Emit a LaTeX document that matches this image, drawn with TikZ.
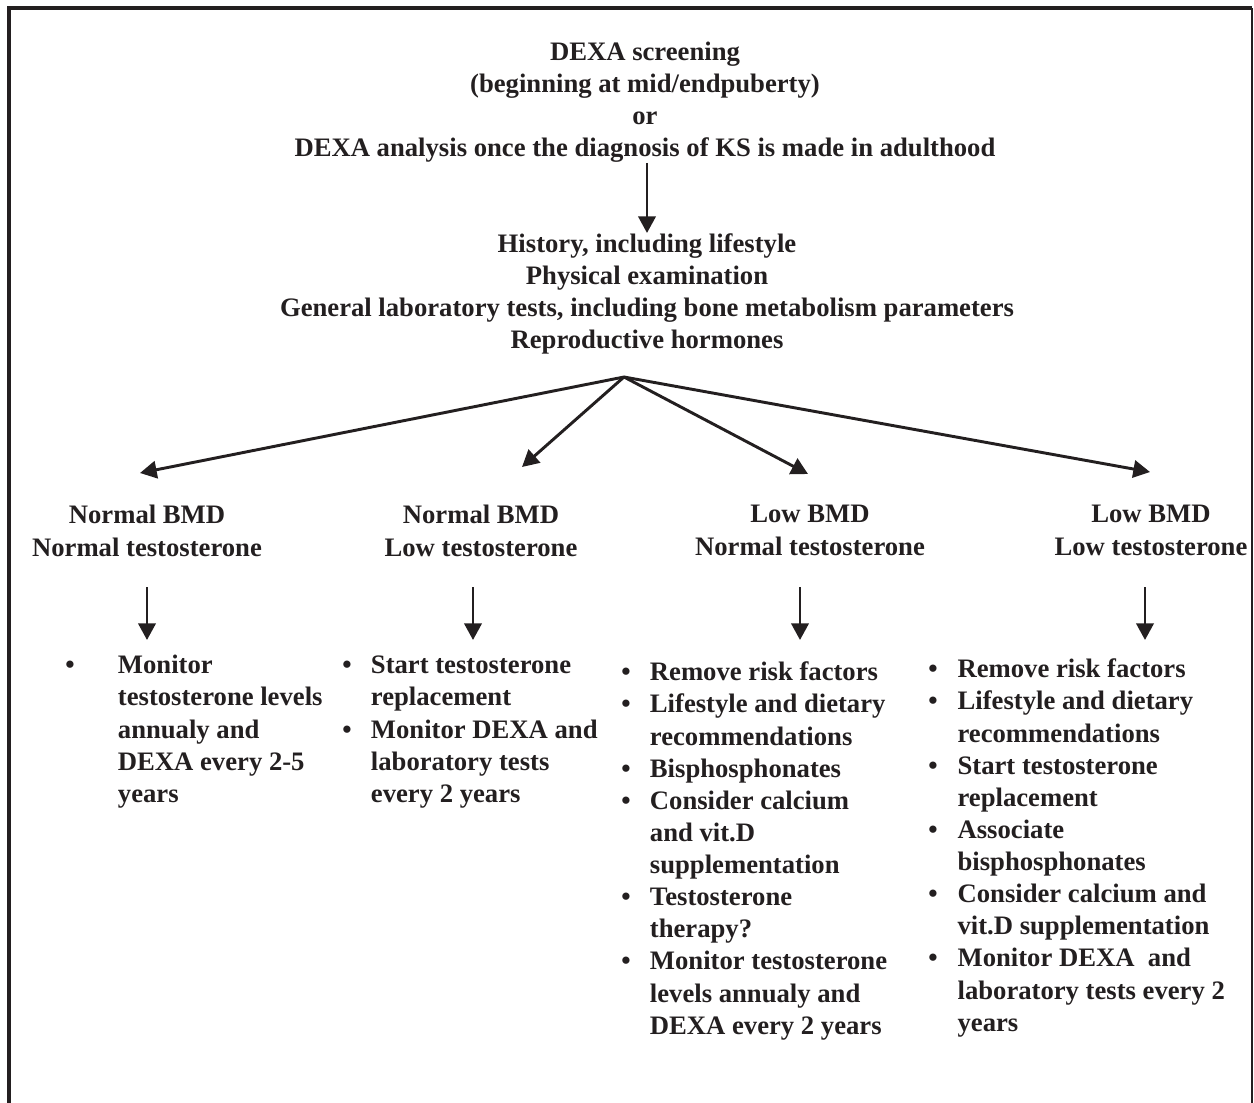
\documentclass[tikz,border=0pt]{standalone}
\usepackage{fontspec}
\setmainfont{Liberation Serif}
\usetikzlibrary{arrows.meta,calc,positioning}
\definecolor{ink}{HTML}{231F20}
\tikzset{
  heading/.style={
    text=ink,
    inner sep=0pt,
    align=center,
    anchor=north,
    font=\bfseries\fontsize{20}{24}\selectfont
  },
  outcome/.style={
    heading,
    font=\bfseries\fontsize{20}{24.7}\selectfont
  },
  plan/.style={
    text=ink,
    inner sep=0pt,
    anchor=north west,
    font=\bfseries\fontsize{20}{24.1}\selectfont
  },
  flow/.style={
    -{Triangle[length=12.5pt,width=13pt]},
    draw=ink,
    line width=2.2pt
  },
  frame/.style={
    draw=ink,
    line width=2.3pt
  }
}
\newcommand{\bul}{\textbullet}

\begin{document}
\begin{tikzpicture}[x=0.75pt,y=-0.75pt]
  \useasboundingbox (0,0) rectangle (1254,1103);

  % Open frame (no bottom edge)
  \draw[frame] (9,1103) -- (9,8) -- (1252,8);
  \draw[draw=ink,line width=1.1pt] (1252,8) -- (1252,1103);

  % Screening and work-up
  \node[heading] (screen) at (645,42)
    {DEXA screening\\
     (beginning at mid/endpuberty)\\
     or\\
     DEXA analysis once the diagnosis of KS is made in adulthood};

  \node[heading] (exam) at (647,233)
    {History, including lifestyle\\
     Physical examination\\
     General laboratory tests, including bone metabolism parameters\\
     Reproductive hormones};

  \draw[flow] (screen.south -| 647,0) -- (exam.north -| 647,0);

  % Four outcomes
  \node[outcome] (headA) at (147,505) {Normal BMD\\ Normal testosterone};
  \node[outcome] (headB) at (481,505) {Normal BMD\\ Low testosterone};
  \node[outcome] (headC) at (810,505) {Low BMD\\ Normal testosterone};
  \node[outcome] (headD) at (1151,505) {Low BMD\\ Low testosterone};

  \coordinate (hub) at (624,377);
  \coordinate (tipA) at (140,473);
  \coordinate (tipB) at (522,467);
  \coordinate (tipC) at (808,474);
  \coordinate (tipD) at (1150,472);
  \foreach \t in {A,B,C,D}
    \draw[flow] (hub) -- (tip\t);

  % Management per outcome
  \node[plan] (listA) at (65,651)
    {\begin{tabular}{@{}c@{\hspace{32.5pt}}l@{}}
     \bul & Monitor\\
          & testosterone levels\\
          & annualy and\\
          & DEXA every 2-5\\
          & years
     \end{tabular}};

  \node[plan] (listB) at (342,651)
    {\begin{tabular}{@{}c@{\hspace{14.5pt}}l@{}}
     \bul & Start testosterone\\
          & replacement\\
     \bul & Monitor DEXA and\\
          & laboratory tests\\
          & every 2 years
     \end{tabular}};

  \node[plan] (listC) at (621,658)
    {\begin{tabular}{@{}c@{\hspace{14.5pt}}l@{}}
     \bul & Remove risk factors\\
     \bul & Lifestyle and dietary\\
          & recommendations\\
     \bul & Bisphosphonates\\
     \bul & Consider calcium\\
          & and vit.D\\
          & supplementation\\
     \bul & Testosterone\\
          & therapy?\\
     \bul & Monitor testosterone\\
          & levels annualy and\\
          & DEXA every 2 years
     \end{tabular}};

  \node[plan] (listD) at (928,655)
    {\begin{tabular}{@{}c@{\hspace{15pt}}l@{}}
     \bul & Remove risk factors\\
     \bul & Lifestyle and dietary\\
          & recommendations\\
     \bul & Start testosterone\\
          & replacement\\
     \bul & Associate\\
          & bisphosphonates\\
     \bul & Consider calcium and\\
          & vit.D supplementation\\
     \bul & Monitor DEXA\ \ and\\
          & laboratory tests every 2\\
          & years
     \end{tabular}};

  \coordinate (dropA) at (147,587);
  \coordinate (dropB) at (473,587);
  \coordinate (dropC) at (800,587);
  \coordinate (dropD) at (1145,587);
  \foreach \t in {A,B,C,D}
    \draw[flow] (drop\t) -- ++(0,53);
\end{tikzpicture}
\end{document}
